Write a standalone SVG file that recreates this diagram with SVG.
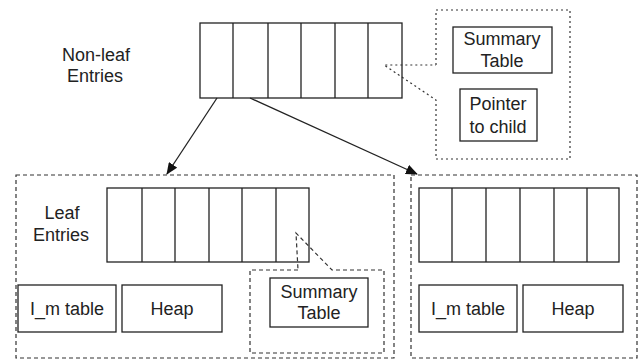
<svg xmlns="http://www.w3.org/2000/svg" width="638" height="360" viewBox="0 0 638 360">
<style>
.box{fill:#fff;stroke:#222;stroke-width:1.3}
.ln{stroke:#222;stroke-width:1.3;fill:none}
.dash{fill:none;stroke:#333;stroke-width:1.2;stroke-dasharray:4,3}
.dot{fill:none;stroke:#333;stroke-width:1.2;stroke-dasharray:2,3}
text{font-family:"Liberation Sans",Arial,sans-serif;font-size:18px;fill:#222;text-anchor:middle}
</style>
<defs>
<marker id="ah" markerWidth="12" markerHeight="10" refX="11" refY="5" orient="auto" markerUnits="userSpaceOnUse">
<path d="M0,0 L12,5 L0,10 z" fill="#111"/>
</marker>
</defs>
<g id="nonleaf">
<text x="96" y="61">Non-leaf</text>
<text x="95" y="82">Entries</text>
<rect class="box" x="200" y="23" width="202" height="75"/>
<path class="ln" d="M233,23V98M268,23V98M301,23V98M335,23V98M368,23V98"/>
</g>
<g id="nonleaf-callout">
<path class="dot" d="M436,65V10H570V159H436V100L384,65H436"/>
<rect class="box" x="453" y="27" width="99" height="46"/>
<text x="502" y="45">Summary</text>
<text x="502" y="67">Table</text>
<rect class="box" x="460" y="89" width="77" height="52"/>
<text x="498" y="110">Pointer</text>
<text x="498" y="133">to child</text>
</g>
<g id="leaf-left">
<rect class="dash" x="16" y="175" width="378" height="183"/>
<text x="62" y="219">Leaf</text>
<text x="61" y="241">Entries</text>
<rect class="box" x="107" y="188" width="202" height="74"/>
<path class="ln" d="M142,188V262M175,188V262M209,188V262M242,188V262M276,188V262"/>
<rect class="box" x="18" y="285" width="98" height="47"/>
<text x="67" y="315">I_m table</text>
<rect class="box" x="122" y="285" width="100" height="47"/>
<text x="172" y="315">Heap</text>
</g>
<g id="leaf-left-callout">
<path class="dash" d="M298,270H250V353H384V270H332L296,233Z"/>
<rect class="box" x="270" y="278" width="98" height="49"/>
<text x="319" y="298">Summary</text>
<text x="319" y="319">Table</text>
</g>
<g id="leaf-right">
<rect class="dash" x="411" y="175" width="226" height="183"/>
<rect class="box" x="419" y="188" width="200" height="74"/>
<path class="ln" d="M452,188V262M486,188V262M520,188V262M554,188V262M587,188V262"/>
<rect class="box" x="419" y="285" width="98" height="47"/>
<text x="468" y="315">I_m table</text>
<rect class="box" x="523" y="285" width="100" height="47"/>
<text x="573" y="315">Heap</text>
</g>
<g id="connectors">
<line class="ln" x1="217" y1="98" x2="167" y2="174" marker-end="url(#ah)"/>
<line class="ln" x1="250" y1="98" x2="417" y2="174" marker-end="url(#ah)"/>
</g>
</svg>
